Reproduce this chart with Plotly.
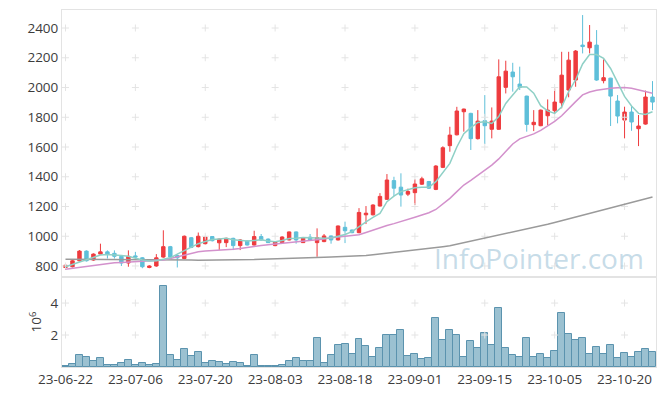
import plotly.graph_objects as go

dates = ["23-06-22","23-06-23","23-06-26","23-06-27","23-06-28","23-06-29","23-06-30",
         "23-07-03","23-07-04","23-07-05","23-07-06","23-07-07","23-07-10","23-07-11","23-07-12",
         "23-07-13","23-07-14","23-07-17","23-07-18","23-07-19","23-07-20","23-07-21","23-07-24",
         "23-07-25","23-07-26","23-07-27","23-07-28","23-07-31","23-08-01","23-08-02","23-08-03",
         "23-08-04","23-08-07","23-08-08","23-08-09","23-08-10","23-08-11","23-08-14","23-08-16",
         "23-08-17","23-08-18","23-08-21","23-08-22","23-08-23","23-08-24","23-08-25","23-08-28",
         "23-08-29","23-08-30","23-08-31","23-09-01","23-09-04","23-09-05","23-09-06","23-09-07",
         "23-09-08","23-09-11","23-09-12","23-09-13","23-09-14","23-09-15","23-09-18","23-09-19",
         "23-09-20","23-09-21","23-09-22","23-09-25","23-09-26","23-09-27","23-10-04","23-10-05",
         "23-10-06","23-10-10","23-10-11","23-10-12","23-10-13","23-10-16","23-10-17","23-10-18",
         "23-10-19","23-10-20","23-10-23","23-10-24","23-10-25","23-10-26"]

open_ = [790,795,835,900,840,880,895,885,865,820,868,855,790,800,860,930,870,850,990,930,
         950,998,956,957,986,937,968,941,998,981,937,957,975,1029,957,994,957,964,1002,975,
         1060,1042,1024,1144,1144,1203,1248,1374,1330,1283,1293,1350,1368,1315,1463,1609,1682,1837,1826,1656,
         1777,1719,1719,2001,2104,2023,1942,1750,1743,1810,1844,1897,1983,2050,2285,2267,2285,2046,2063,1909,
         1781,1835,1723,1754,1936]
high = [810,840,907,905,885,950,905,905,870,905,895,860,805,880,1040,935,875,1005,995,1025,
        1000,1000,985,990,990,980,972,1037,1015,985,968,1000,1032,1032,995,1015,1053,1015,1005,1072,
        1098,1045,1189,1203,1215,1290,1418,1400,1423,1320,1383,1400,1372,1478,1605,1736,1870,1858,1830,1848,
        1949,1866,2189,2180,2166,2140,1945,1848,1852,1920,1994,2240,2240,2252,2487,2420,2386,2189,2065,1949,
        1871,1875,1815,1979,2043]
low = [775,790,830,830,835,878,850,850,800,795,840,785,785,795,855,855,790,845,920,925,
       945,965,907,927,907,907,938,938,970,955,933,955,972,950,955,972,862,960,950,972,
       954,1020,1020,1082,1140,1200,1245,1270,1199,1270,1210,1345,1318,1310,1458,1568,1678,1703,1580,1650,
       1620,1658,1715,1960,1972,1983,1703,1707,1740,1746,1826,1860,1934,2005,2229,2229,2045,2028,1741,1759,
       1658,1709,1606,1750,1848]
close = [805,835,900,835,880,895,880,865,820,865,860,795,800,855,930,860,855,1000,925,1000,
         995,970,981,986,937,975,941,998,975,957,964,995,1029,975,991,975,991,1002,975,1069,
         1037,1024,1160,1155,1210,1268,1378,1323,1277,1301,1351,1386,1323,1472,1595,1680,1842,1855,1656,1774,
         1743,1774,2072,2110,2072,2001,1752,1766,1848,1848,1902,2083,2184,2245,2275,2305,2050,2066,1942,1808,
         1835,1768,1741,1936,1902]
volume_m = [0.08,0.19,0.75,0.63,0.38,0.54,0.13,0.13,0.25,0.42,0.13,0.23,0.13,0.17,5.04,0.75,0.44,1.10,0.69,0.96,
            0.25,0.35,0.29,0.17,0.29,0.23,0.05,0.73,0.04,0.04,0.06,0.15,0.38,0.54,0.38,0.38,1.79,0.23,0.73,1.38,
            1.42,0.81,1.73,1.29,0.63,1.17,1.98,1.98,2.29,0.69,0.79,0.50,0.54,3.04,1.69,2.31,1.98,0.63,1.63,1.19,
            2.10,1.35,3.67,1.19,0.73,0.63,1.79,0.63,0.79,0.56,1.00,3.38,2.04,1.69,1.79,0.79,1.23,0.79,1.35,0.56,
            0.85,0.63,0.92,1.10,0.92]
ma5 = [795,810,825,840,858,874,878,877,871,866,852,840,834,836,845,855,880,905,925,950,
       965,978,982,986,976,970,968,972,976,968,963,972,984,986,991,990,986,987,988,1000,
       1012,1031,1066,1097,1127,1154,1232,1270,1300,1311,1326,1329,1329,1367,1425,1490,1600,1690,1730,1765,
       1770,1758,1805,1893,1950,2005,2003,1962,1878,1843,1826,1868,1973,2052,2158,2222,2222,2196,2128,2034,
       1940,1876,1826,1818,1837]
ma20 = [778,784,791,798,805,812,818,821,823,825,827,829,831,833,840,850,862,875,886,895,
        900,902,905,910,913,918,923,930,937,943,948,953,958,962,965,970,975,982,990,996,
        1000,1004,1010,1025,1042,1058,1072,1085,1098,1113,1128,1143,1158,1180,1215,1255,1300,1344,1375,1408,
        1440,1478,1520,1570,1620,1655,1670,1688,1712,1740,1772,1810,1860,1905,1950,1970,1982,1990,1995,1998,
        2000,1995,1985,1970,1962]
ma60 = [845,845,845,845,844,844,844,843,843,843,842,842,841,841,841,840,840,840,840,839,
        839,838,838,839,840,841,842,843,845,846,848,850,851,853,855,856,858,859,861,862,
        864,865,867,870,875,880,885,890,895,900,905,912,918,924,930,936,946,956,966,978,
        990,1000,1010,1020,1030,1040,1050,1060,1070,1080,1092,1104,1116,1128,1140,1152,1164,1176,1188,1200,
        1212,1225,1240,1252,1264]

price_ticks = [800, 1000, 1200, 1400, 1600, 1800, 2000, 2200, 2400]
vol_ticks = [2, 4]
tick_dates = dates[::10]

RED = "#ee3b3e"
BLUE = "#5ebfd9"
FONT = "Open Sans"

fig = go.Figure()

fig.add_trace(go.Candlestick(x=dates, open=open_, high=high, low=low, close=close,
                             xaxis="x", yaxis="y",
                             increasing=dict(line=dict(color=RED, width=1), fillcolor=RED),
                             decreasing=dict(line=dict(color=BLUE, width=1), fillcolor=BLUE),
                             showlegend=False))
fig.add_trace(go.Bar(x=dates, y=volume_m, xaxis="x2", yaxis="y2",
                     marker=dict(color="#9bc1d1", line=dict(color="#5b93ae", width=1)),
                     showlegend=False))

# grid crosses
gx, gy = [], []
for d in tick_dates:
    for p in price_ticks:
        gx.append(d); gy.append(p)
fig.add_trace(go.Scatter(x=gx, y=gy, mode="markers", xaxis="x", yaxis="y",
                         marker=dict(symbol="cross-thin", size=5, line=dict(color="#e4e4e4", width=1)),
                         hoverinfo="skip", showlegend=False))
vx, vy = [], []
for d in tick_dates:
    for v in vol_ticks:
        vx.append(d); vy.append(v)
fig.add_trace(go.Scatter(x=vx, y=vy, mode="markers", xaxis="x2", yaxis="y2",
                         marker=dict(symbol="cross-thin", size=5, line=dict(color="#e4e4e4", width=1)),
                         hoverinfo="skip", showlegend=False))

fig.add_trace(go.Scatter(x=dates, y=ma60, mode="lines", xaxis="x", yaxis="y",
                         line=dict(color="#9a9a9a", width=1.5), showlegend=False))
fig.add_trace(go.Scatter(x=dates, y=ma20, mode="lines", xaxis="x", yaxis="y",
                         line=dict(color="#d391cc", width=1.5), showlegend=False))
fig.add_trace(go.Scatter(x=dates, y=ma5, mode="lines", xaxis="x", yaxis="y",
                         line=dict(color="#8fd0c6", width=1.5), showlegend=False))

split = 0.2521
axis_common = dict(showline=True, linecolor="#e3e3e3", linewidth=1, mirror=True,
                   showgrid=False, zeroline=False, automargin=False)
# the page body adds an 8px offset, so the figure is 8px smaller with margins shifted accordingly
fig.update_layout(
    width=657, height=388,
    margin=dict(l=54, r=9, t=2, b=29),
    paper_bgcolor="white", plot_bgcolor="white",
    font=dict(family=FONT, size=13.5, color="#3c3c3c"),
    bargap=0,
    xaxis=dict(domain=[0, 1], type="category", categoryorder="array", categoryarray=dates,
               range=[-0.5, len(dates) - 0.5],
               showticklabels=False, rangeslider=dict(visible=False), anchor="y", **axis_common),
    yaxis=dict(domain=[split, 1], range=[726, 2521], tickvals=price_ticks,
               anchor="x", ticks="", **axis_common),
    xaxis2=dict(domain=[0, 1], type="category", categoryorder="array", categoryarray=dates,
                range=[-0.5, len(dates) - 0.5],
                tickvals=tick_dates, ticktext=tick_dates, tickangle=0, ticks="",
                anchor="y2", matches="x", **axis_common),
    yaxis2=dict(domain=[0, split], range=[0, 5.63], tickvals=vol_ticks,
                ticktext=[str(v) for v in vol_ticks], ticks="", anchor="x2",
                title=dict(text="10<sup>6</sup>", standoff=5, font=dict(size=13.5)), **axis_common),
    annotations=[dict(text="InfoPointer.com", xref="paper", yref="paper", x=0.803, y=0.305,
                      xanchor="center", yanchor="middle", showarrow=False,
                      font=dict(family=FONT, size=28, color="rgba(150,190,212,0.55)"))],
)

fig.write_html("out.html")
